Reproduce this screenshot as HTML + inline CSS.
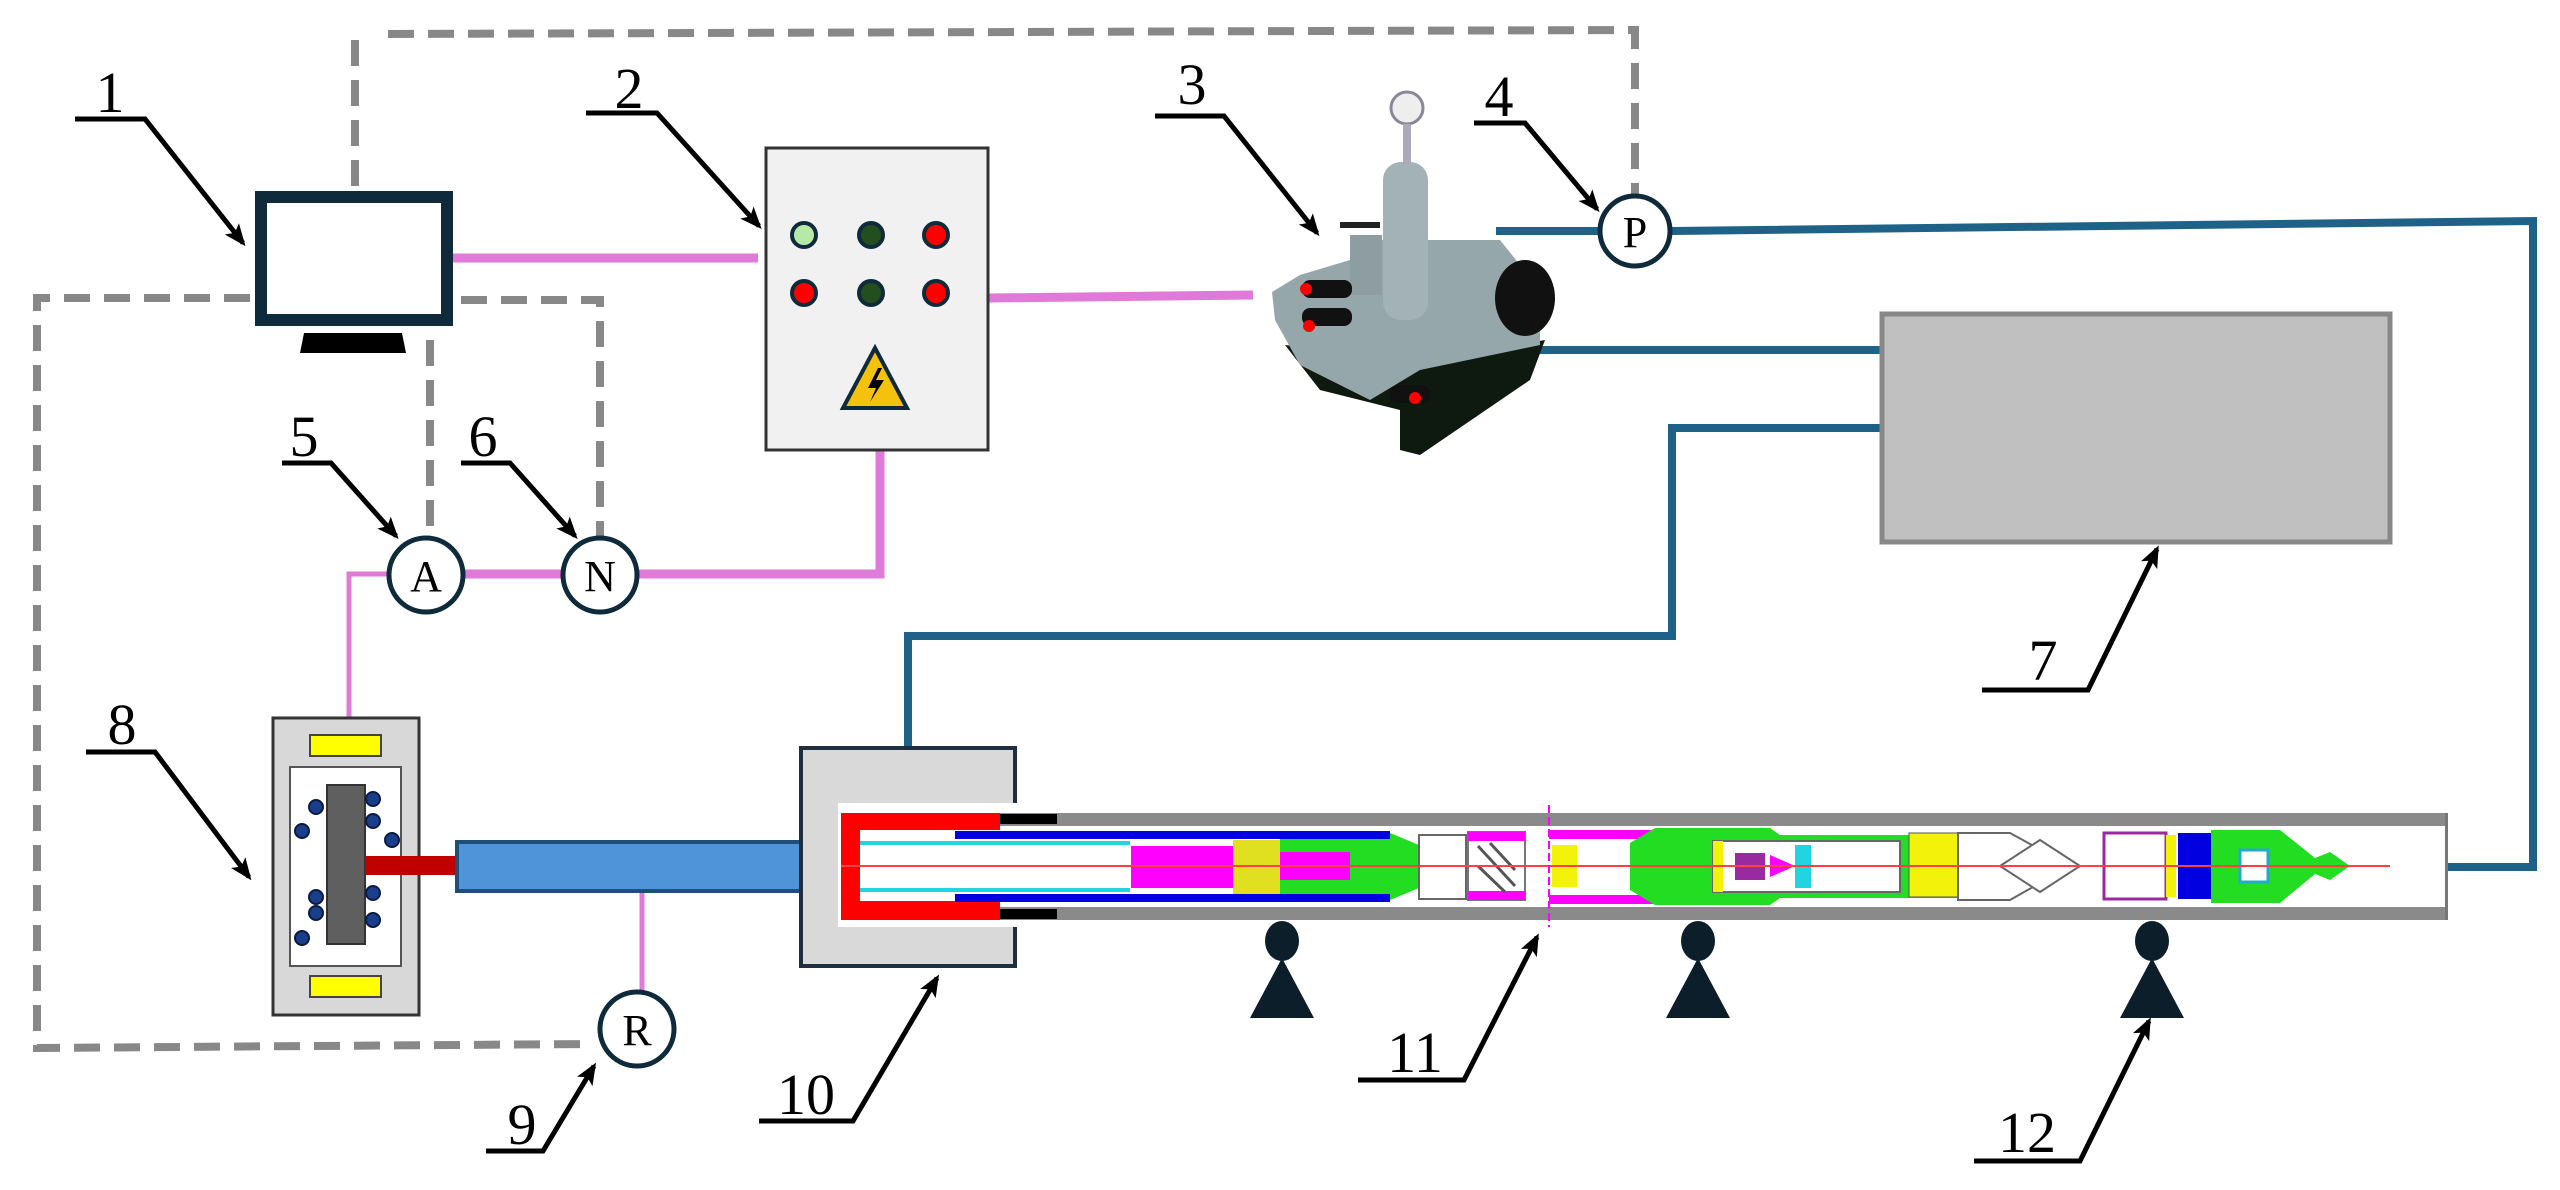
<!DOCTYPE html>
<html><head><meta charset="utf-8"><style>
html,body{margin:0;padding:0;background:#fff}
svg{display:block}
text{font-family:"Liberation Serif",serif}
</style></head><body>
<svg width="2560" height="1190" viewBox="0 0 2560 1190" xmlns="http://www.w3.org/2000/svg">
<defs>
<marker id="ar2" markerWidth="22" markerHeight="22" refX="18" refY="11" orient="auto" markerUnits="userSpaceOnUse" viewBox="0 0 22 22">
<path d="M0,2 L22,11 L0,20 L5,11 z" fill="#000"/></marker>
</defs>
<g stroke="#888" stroke-width="8" fill="none" stroke-dasharray="26,14">
<path d="M388,34 L1635,30 L1635,194"/>
<path d="M355,40 L355,188"/>
<path d="M250,298 L37,298 L37,1048 L592,1044"/>
<path d="M461,300 L600,300 L600,537"/>
<path d="M430,340 L430,537"/>
</g>
<g stroke="#e07ad8" stroke-width="9" fill="none">
<path d="M453,258 L758,258"/>
<path d="M989,298 L1253,295"/>
<path d="M388,574 L562,574"/>
<path d="M638,574 L880,574 L880,451"/>
<path d="M349,717 L349,574 L388,574" stroke-width="5"/>
<path d="M642,892 L642,991" stroke-width="5"/>
</g>
<g stroke="#1f6288" stroke-width="8" fill="none">
<path d="M1496,231 L1598,231"/>
<path d="M1672,231 L2533,221 L2533,867 L2447,867"/>
<path d="M1529,350 L1880,350"/>
<path d="M1880,428 L1672,428 L1672,636 L908,636 L908,747"/>
</g>
<rect x="261" y="197" width="186" height="123" fill="#fff" stroke="#0f2a3a" stroke-width="12"/>
<path d="M304,333 L402,333 L406,353 L300,353 z" fill="#000"/>
<rect x="766" y="148" width="222" height="302" fill="#f1f1f1" stroke="#333" stroke-width="3"/>
<g stroke="#0f2a3a" stroke-width="4">
<circle cx="804" cy="235" r="12" fill="#b6e8a8"/><circle cx="871" cy="235" r="12" fill="#244d20"/><circle cx="936" cy="235" r="12" fill="#f00"/>
<circle cx="804" cy="293" r="12" fill="#f00"/><circle cx="871" cy="293" r="12" fill="#244d20"/><circle cx="936" cy="293" r="12" fill="#f00"/>
</g>
<path d="M875,348 L907,408 L843,408 z" fill="#f4c20d" stroke="#0f2a3a" stroke-width="4"/>
<path d="M878,368 L868,388 L876,388 L870,402 L884,380 L876,380 L882,368 z" fill="#000"/>
<!-- pump -->
<g>
<path d="M1285,345 L1320,390 L1400,410 L1400,450 L1420,455 L1530,380 L1545,340 L1430,360 z" fill="#0e1a10"/>
<path d="M1272,292 L1300,275 L1350,260 L1360,240 L1500,240 L1540,290 L1540,345 L1420,370 L1370,400 L1300,365 L1275,320 z" fill="#96a7ab"/>
<rect x="1383" y="162" width="45" height="158" rx="18" fill="#a3b2b6"/>
<rect x="1350" y="235" width="32" height="60" fill="#8d9da1"/>
<circle cx="1407" cy="108" r="16" fill="#eee" stroke="#889" stroke-width="3"/>
<rect x="1403" y="124" width="8" height="40" fill="#aab"/>
<ellipse cx="1525" cy="298" rx="30" ry="38" fill="#111"/>
<rect x="1302" y="280" width="50" height="18" rx="8" fill="#111"/>
<rect x="1302" y="308" width="50" height="18" rx="8" fill="#111"/>
<circle cx="1306" cy="289" r="6" fill="#f00"/><circle cx="1309" cy="326" r="6" fill="#f00"/>
<rect x="1390" y="385" width="40" height="18" rx="8" fill="#111"/><circle cx="1415" cy="398" r="6" fill="#f00"/>
<path d="M1340,225 L1380,225" stroke="#222" stroke-width="6"/>
</g>
<circle cx="1635" cy="231" r="35" fill="#fff" stroke="#0f2a3a" stroke-width="5"/>
<text x="1635" y="247" font-size="44" text-anchor="middle">P</text>
<circle cx="426" cy="575" r="37" fill="#fff" stroke="#0f2a3a" stroke-width="5"/>
<text x="426" y="591" font-size="44" text-anchor="middle">A</text>
<circle cx="600" cy="575" r="37" fill="#fff" stroke="#0f2a3a" stroke-width="5"/>
<text x="600" y="591" font-size="44" text-anchor="middle">N</text>
<circle cx="637" cy="1029" r="37" fill="#fff" stroke="#0f2a3a" stroke-width="5"/>
<text x="637" y="1045" font-size="44" text-anchor="middle">R</text>
<rect x="1882" y="314" width="508" height="228" fill="#c0c0c0" stroke="#888" stroke-width="5"/>
<rect x="273" y="718" width="146" height="297" fill="#d8d8d8" stroke="#333" stroke-width="3"/>
<rect x="310" y="735" width="71" height="21" fill="#ff0" stroke="#444" stroke-width="2"/>
<rect x="310" y="976" width="71" height="21" fill="#ff0" stroke="#444" stroke-width="2"/>
<rect x="290" y="767" width="111" height="199" fill="#fff" stroke="#555" stroke-width="2"/>
<rect x="327" y="785" width="38" height="159" fill="#5f5f5f" stroke="#333" stroke-width="2"/>
<g fill="#1a3f8a" stroke="#0a1a40" stroke-width="2">
<circle cx="316" cy="807" r="7"/><circle cx="302" cy="831" r="7"/><circle cx="373" cy="799" r="7"/><circle cx="373" cy="821" r="7"/><circle cx="392" cy="840" r="7"/>
<circle cx="316" cy="897" r="7"/><circle cx="316" cy="913" r="7"/><circle cx="373" cy="893" r="7"/><circle cx="373" cy="920" r="7"/><circle cx="302" cy="938" r="7"/>
</g>
<rect x="365" y="856" width="90" height="19" fill="#c00000"/>
<rect x="457" y="842" width="382" height="49" fill="#4f93d8" stroke="#1f4e79" stroke-width="4"/>
<rect x="801" y="748" width="214" height="218" fill="#d9d9d9" stroke="#1e3040" stroke-width="4"/>
<rect x="838" y="803" width="180" height="124" fill="#fff"/>
<rect x="1000" y="813" width="1447" height="107" fill="#fff"/>
<rect x="1000" y="813" width="1447" height="13" fill="#8a8a8a"/>
<rect x="1000" y="907" width="1447" height="13" fill="#8a8a8a"/>
<rect x="2445" y="813" width="3" height="107" fill="#777"/>
<path d="M841,813 L1000,813 L1000,830 L860,830 L860,901 L1000,901 L1000,920 L841,920 z" fill="#f00"/>
<rect x="1000" y="814" width="57" height="10" fill="#000"/><rect x="1000" y="909" width="57" height="10" fill="#000"/>
<rect x="955" y="831" width="325" height="8" fill="#0000e0"/><rect x="955" y="894" width="325" height="8" fill="#0000e0"/>
<rect x="860" y="841" width="270" height="4" fill="#22d3e0"/><rect x="860" y="888" width="270" height="4" fill="#22d3e0"/>
<path d="M1131,846 L1233,846 L1233,888 L1131,888 z" fill="#ff00ff"/>
<rect x="1233" y="840" width="47" height="54" fill="#e0e020"/>
<path d="M1280,833 L1390,833 L1419,845 L1419,888 L1390,900 L1280,900 z" fill="#22dd22"/>
<rect x="1280" y="831" width="110" height="8" fill="#0000e0"/><rect x="1280" y="894" width="110" height="8" fill="#0000e0"/>
<rect x="1280" y="852" width="70" height="28" fill="#ff00ff"/>
<rect x="1419" y="835" width="47" height="64" fill="#fff" stroke="#666" stroke-width="2"/>
<rect x="1468" y="832" width="57" height="68" fill="#fff" stroke="#777" stroke-width="2"/>
<rect x="1468" y="832" width="57" height="9" fill="#ff00ff"/><rect x="1468" y="891" width="57" height="9" fill="#ff00ff"/>
<path d="M1478,846 L1515,886 M1478,866 L1505,892 M1490,843 L1515,870" stroke="#555" stroke-width="3"/>
<rect x="1549" y="830" width="106" height="9" fill="#ff00ff"/><rect x="1549" y="895" width="106" height="9" fill="#ff00ff"/>
<rect x="1552" y="845" width="25" height="42" fill="#f2f20a"/>
<path d="M1655,828 L1770,828 L1780,835 L1990,835 L1990,898 L1780,898 L1770,905 L1655,905 L1630,890 L1630,843 z" fill="#22dd22"/>
<rect x="1713" y="841" width="187" height="51" fill="#fff" stroke="#666" stroke-width="2"/>
<rect x="1713" y="841" width="10" height="51" fill="#f2f20a"/>
<rect x="1735" y="853" width="30" height="27" fill="#9a2aa0"/>
<rect x="1795" y="845" width="16" height="43" fill="#22d3e0"/>
<path d="M1770,855 L1795,866 L1770,877 z" fill="#ff00ff"/>
<rect x="1909" y="833" width="49" height="64" fill="#f2f20a" stroke="#555" stroke-width="1"/>
<path d="M1958,833 L2010,833 L2070,866 L2010,900 L1958,900 z" fill="#fff" stroke="#666" stroke-width="2"/>
<path d="M2000,866 L2040,840 L2080,866 L2040,892 z" fill="#fff" stroke="#666" stroke-width="2"/>
<rect x="2104" y="833" width="62" height="66" fill="#fff" stroke="#9a2aa0" stroke-width="3"/>
<rect x="2166" y="835" width="10" height="62" fill="#f2f20a"/>
<rect x="2178" y="833" width="33" height="66" fill="#0000e0"/>
<path d="M2211,830 L2280,830 L2315,858 L2330,852 L2350,866 L2330,880 L2315,874 L2280,903 L2211,903 z" fill="#22dd22"/>
<rect x="2240" y="850" width="28" height="32" fill="#fff" stroke="#22aacc" stroke-width="3"/>
<path d="M841,866 L2390,866" stroke="#ff4040" stroke-width="2"/>
<path d="M1549,805 L1549,927" stroke="#ff00ff" stroke-width="2" stroke-dasharray="8,4"/>
<g fill="#0b1e2a">
<ellipse cx="1282" cy="941" rx="17" ry="20"/><path d="M1282,958 L1314,1018 L1250,1018 z"/>
<ellipse cx="1698" cy="941" rx="17" ry="20"/><path d="M1698,958 L1730,1018 L1666,1018 z"/>
<ellipse cx="2152" cy="941" rx="17" ry="20"/><path d="M2152,958 L2184,1018 L2120,1018 z"/>
</g>
<g fill="none" stroke="#000" stroke-width="5">
<path d="M75,119 L145,119 L243,243" marker-end="url(#ar2)"/>
<path d="M586,113 L657,113 L759,226" marker-end="url(#ar2)"/>
<path d="M1155,116 L1224,116 L1317,233" marker-end="url(#ar2)"/>
<path d="M1474,123 L1525,123 L1597,209" marker-end="url(#ar2)"/>
<path d="M282,463 L331,463 L396,536" marker-end="url(#ar2)"/>
<path d="M461,463 L510,463 L575,536" marker-end="url(#ar2)"/>
<path d="M1982,690 L2088,690 L2157,549" marker-end="url(#ar2)"/>
<path d="M86,752 L155,752 L249,877" marker-end="url(#ar2)"/>
<path d="M486,1151 L543,1151 L594,1066" marker-end="url(#ar2)"/>
<path d="M759,1121 L853,1121 L937,978" marker-end="url(#ar2)"/>
<path d="M1358,1080 L1464,1080 L1537,937" marker-end="url(#ar2)"/>
<path d="M1974,1161 L2080,1161 L2149,1021" marker-end="url(#ar2)"/>
</g>
<g font-size="58" fill="#000" text-anchor="middle">
<text x="110" y="112">1</text>
<text x="629" y="108">2</text>
<text x="1192" y="104">3</text>
<text x="1499" y="116">4</text>
<text x="304" y="456">5</text>
<text x="483" y="456">6</text>
<text x="2043" y="680">7</text>
<text x="122" y="744">8</text>
<text x="522" y="1144">9</text>
<text x="806" y="1114">10</text>
<text x="1415" y="1072">11</text>
<text x="2027" y="1152">12</text>
</g>
</svg>
</body></html>
